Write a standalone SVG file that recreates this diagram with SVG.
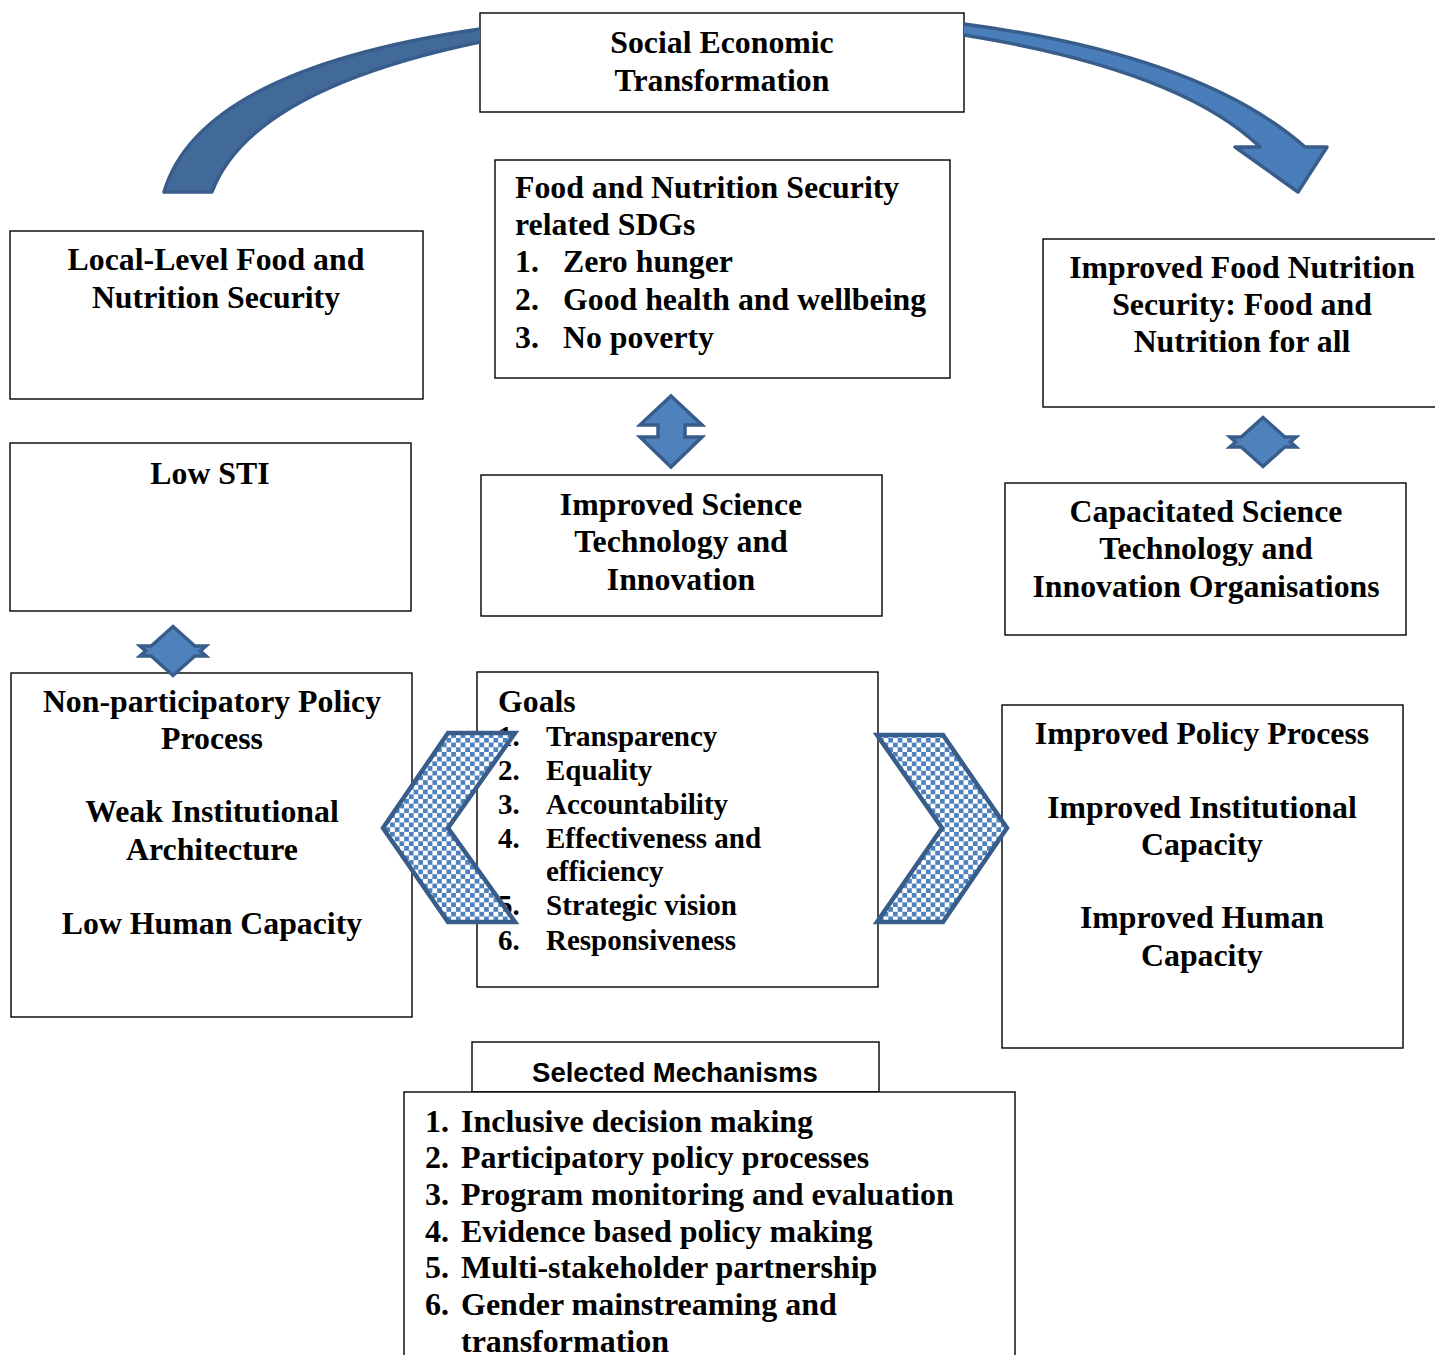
<svg xmlns="http://www.w3.org/2000/svg" width="1435" height="1355" viewBox="0 0 1435 1355">
<style>
.box{fill:#fff;stroke:#000;stroke-width:1.4}
.t{font-family:"Liberation Serif","Times New Roman",serif;font-weight:bold;font-size:31.8px;fill:#000}
.c{text-anchor:middle}
.g{font-size:29px}
.m{font-size:32px}
.s{font-family:"Liberation Sans",Arial,sans-serif;font-weight:bold;font-size:27.5px;fill:#000;text-anchor:middle}
.arr{fill:#4f81bd;stroke:#385d8a;stroke-width:3.5;stroke-linejoin:miter}
.chev{fill:url(#chk);stroke:#385d8a;stroke-width:4.5;stroke-linejoin:miter}
</style>
<defs>
<pattern id="chk" width="9.4" height="9.4" patternUnits="userSpaceOnUse">
<rect width="9.4" height="9.4" fill="#fff"/>
<rect width="4.7" height="4.7" fill="#4f81bd"/>
<rect x="4.7" y="4.7" width="4.7" height="4.7" fill="#4f81bd"/>
</pattern>
<path id="dia" d="M0,-24.5 L21.8,-5 L33,-5 L27.4,0 L33,5 L21.8,5 L0,24.5 L-21.8,5 L-33,5 L-27.4,0 L-33,-5 L-21.8,-5 Z"/>
</defs>
<rect width="1435" height="1355" fill="#fff"/>

<g id="nodes">
<g id="n-social">
<rect class="box" x="480" y="13" width="484" height="99"/>
<text class="t c" x="722" y="53">Social Economic</text>
<text class="t c" x="722" y="91">Transformation</text>
</g>
<g id="n-sdgs">
<rect class="box" x="495" y="160" width="455" height="218"/>
<text class="t" x="515" y="198">Food and Nutrition Security</text>
<text class="t" x="515" y="235">related SDGs</text>
<text class="t" x="515" y="272">1.</text><text class="t" x="563" y="272">Zero hunger</text>
<text class="t" x="515" y="310">2.</text><text class="t" x="563" y="310">Good health and wellbeing</text>
<text class="t" x="515" y="348">3.</text><text class="t" x="563" y="348">No poverty</text>
</g>
<g id="n-local">
<rect class="box" x="10" y="231" width="413" height="168"/>
<text class="t c" x="216" y="270">Local-Level Food and</text>
<text class="t c" x="216" y="308">Nutrition Security</text>
</g>
<g id="n-improved-food">
<rect class="box" x="1043" y="239" width="400" height="168"/>
<text class="t c" x="1242" y="278">Improved Food Nutrition</text>
<text class="t c" x="1242" y="315">Security: Food and</text>
<text class="t c" x="1242" y="352">Nutrition for all</text>
</g>
<g id="n-low-sti">
<rect class="box" x="10" y="443" width="401" height="168"/>
<text class="t c" x="210" y="484">Low STI</text>
</g>
<g id="n-improved-sti">
<rect class="box" x="481" y="475" width="401" height="141"/>
<text class="t c" x="681" y="515">Improved Science</text>
<text class="t c" x="681" y="552">Technology and</text>
<text class="t c" x="681" y="590">Innovation</text>
</g>
<g id="n-capacitated">
<rect class="box" x="1005" y="483" width="401" height="152"/>
<text class="t c" x="1206" y="522">Capacitated Science</text>
<text class="t c" x="1206" y="559">Technology and</text>
<text class="t c" x="1206" y="597">Innovation Organisations</text>
</g>
<g id="n-nonpart">
<rect class="box" x="11" y="673" width="401" height="344"/>
<text class="t c" x="212" y="712">Non-participatory Policy</text>
<text class="t c" x="212" y="749">Process</text>
<text class="t c" x="212" y="822">Weak Institutional</text>
<text class="t c" x="212" y="860">Architecture</text>
<text class="t c" x="212" y="934">Low Human Capacity</text>
</g>
<g id="n-goals">
<rect class="box" x="477" y="672" width="401" height="315"/>
<text class="t" x="498" y="712">Goals</text>
<text class="t g" x="498" y="746">1.</text><text class="t g" x="546" y="746">Transparency</text>
<text class="t g" x="498" y="780">2.</text><text class="t g" x="546" y="780">Equality</text>
<text class="t g" x="498" y="814">3.</text><text class="t g" x="546" y="814">Accountability</text>
<text class="t g" x="498" y="848">4.</text><text class="t g" x="546" y="848">Effectiveness and</text>
<text class="t g" x="546" y="881">efficiency</text>
<text class="t g" x="498" y="915">5.</text><text class="t g" x="546" y="915">Strategic vision</text>
<text class="t g" x="498" y="950">6.</text><text class="t g" x="546" y="950">Responsiveness</text>
</g>
<g id="n-improved-policy">
<rect class="box" x="1002" y="705" width="401" height="343"/>
<text class="t c" x="1202" y="744">Improved Policy Process</text>
<text class="t c" x="1202" y="818">Improved Institutional</text>
<text class="t c" x="1202" y="855">Capacity</text>
<text class="t c" x="1202" y="928">Improved Human</text>
<text class="t c" x="1202" y="966">Capacity</text>
</g>
<g id="n-selected">
<rect class="box" x="472" y="1042" width="407" height="50"/>
<text class="s" x="675" y="1082">Selected Mechanisms</text>
</g>
<g id="n-mechanisms">
<rect class="box" x="404" y="1092" width="611" height="280"/>
<text class="t m" x="425" y="1132">1.</text><text class="t m" x="461" y="1132">Inclusive decision making</text>
<text class="t m" x="425" y="1168">2.</text><text class="t m" x="461" y="1168">Participatory policy processes</text>
<text class="t m" x="425" y="1205">3.</text><text class="t m" x="461" y="1205">Program monitoring and evaluation</text>
<text class="t m" x="425" y="1242">4.</text><text class="t m" x="461" y="1242">Evidence based policy making</text>
<text class="t m" x="425" y="1278">5.</text><text class="t m" x="461" y="1278">Multi-stakeholder partnership</text>
<text class="t m" x="425" y="1315">6.</text><text class="t m" x="461" y="1315">Gender mainstreaming and</text>
<text class="t m" x="461" y="1352">transformation</text>
</g>
</g>

<g id="connectors">
<path d="M164,192 Q200,70 480,29 L480,42 Q250,90 212,192 Z" fill="#41699a"/>
<path d="M480,29 Q200,70 164,192 L212,192 Q250,90 480,42" fill="none" stroke="#385d8a" stroke-width="3.5" stroke-linejoin="round"/>
<path d="M964,24 Q1200,55 1305,147 L1327,147 L1298,192 L1235,147 L1260,147 Q1180,70 964,35 Z" fill="#4a7ebb"/>
<path d="M964,24 Q1200,55 1305,147 L1327,147 L1298,192 L1235,147 L1260,147 Q1180,70 964,35" fill="none" stroke="#385d8a" stroke-width="3.5" stroke-linejoin="round"/>
<path class="arr" d="M671,396 L702,425 L685,425 L685,437 L702,437 L671,467 L640,437 L658,437 L658,425 L640,425 Z"/>
<use href="#dia" class="arr" x="1263" y="442"/>
<use href="#dia" class="arr" x="173" y="651"/>
<path class="chev" d="M448,733 L515,733 L448,828 L515,922 L448,922 L383,828 Z"/>
<path class="chev" d="M877,735 L943,735 L1007,828 L943,922 L877,922 L942,828 Z"/>
</g>
</svg>
